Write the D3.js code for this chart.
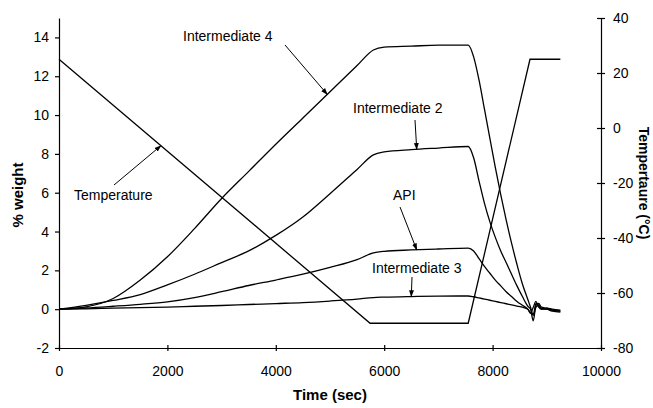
<!DOCTYPE html>
<html>
<head>
<meta charset="utf-8">
<script src="https://cdn.jsdelivr.net/npm/d3@7"></script>
<style>
  html, body { margin: 0; padding: 0; background: #fff; }
  svg { display: block; }
  text { font-family: "Liberation Sans", Arial, Helvetica, sans-serif; fill: #000; }
</style>
</head>
<body>
<svg id="chart" width="653" height="408"></svg>
<script>
// ---------------- data ----------------
const times = [0,500,1000,1500,2000,2500,3000,3500,4000,4500,5000,5500,5800,6000,6500,7000,7550,
               7650,7750,7850,7950,8050,8150,8250,8350,8450,8550,8650,8700,8750,8800,8850,8900,9000,9100,9250];
const intermediate4 = [0,0.12,0.55,1.5,2.7,4.15,5.7,7.1,8.5,9.85,11.2,12.55,13.35,13.5,13.55,13.6,13.6,
               13.0,11.8,10.3,8.8,7.3,5.9,4.6,3.4,2.3,1.3,0.5,0.1,-0.3,0.3,0.2,0.05,0.0,-0.1,-0.15];
const intermediate2 = [0,0.2,0.45,0.75,1.25,1.8,2.4,3.0,3.8,4.75,5.95,7.2,7.95,8.1,8.22,8.3,8.38,
               7.8,6.6,5.45,4.5,3.7,3.0,2.4,1.8,1.2,0.65,0.15,0.0,-0.6,0.2,0.3,0.1,0.05,-0.05,-0.1];
const api = [0,0.06,0.15,0.25,0.38,0.6,0.9,1.22,1.5,1.8,2.15,2.55,2.9,2.98,3.05,3.1,3.15,
               3.0,2.6,2.2,1.85,1.5,1.2,0.9,0.65,0.4,0.2,0.0,-0.2,0.1,0.4,0.1,0.0,0.05,0.0,-0.05];
const intermediate3 = [0,0.02,0.05,0.08,0.11,0.15,0.19,0.24,0.29,0.34,0.42,0.52,0.6,0.62,0.65,0.67,0.68,
               0.64,0.58,0.52,0.46,0.4,0.34,0.28,0.22,0.16,0.1,0.0,-0.2,-0.3,0.1,0.2,0.0,0.0,-0.05,-0.1];
const tempTimes = [0, 5740, 7550, 8690, 9250];
const temperature = [25, -71, -71, 25, 25];

const xTicks = [0,2000,4000,6000,8000,10000];
const yLeftTicks = [-2,0,2,4,6,8,10,12,14];
const yRightTicks = [-80,-60,-40,-20,0,20,40];

// annotations: label, anchor series & time where arrow points
const labels = [
  {text: "Intermediate 4", series: intermediate4, t: 4950, tx: 183, ty: 36, ax: 285, ay: 45},
  {text: "Intermediate 2", series: intermediate2, t: 6600, tx: 353, ty: 108, ax: 415, ay: 120},
  {text: "API",            series: api,           t: 6600, tx: 393, ty: 195, ax: 400, ay: 207},
  {text: "Intermediate 3", series: intermediate3, t: 6500, tx: 372, ty: 268, ax: 412, ay: 277},
  {text: "Temperature",    series: null,          t: 1880, tx: 74,  ty: 195, ax: 114, ay: 185}
];

// ---------------- layout ----------------
const svg = d3.select("#chart");
const L = 59, R = 601, T = 18, B = 348;

const x = d3.scaleLinear().domain([0, 10000]).range([L, R]);
const yL = d3.scaleLinear().domain([-2, 15]).range([B, T]);
const yR = d3.scaleLinear().domain([-80, 40]).range([B, T]);

// defs: arrow head
svg.append("defs").append("marker")
  .attr("id", "arrow").attr("viewBox", "0 0 10 10")
  .attr("refX", 9).attr("refY", 5)
  .attr("markerWidth", 7).attr("markerHeight", 7)
  .attr("orient", "auto-start-reverse")
  .append("path").attr("d", "M0,1.5 L10,5 L0,8.5 Z").attr("fill", "#000");

// ---------------- series ----------------
const line = d3.line().x(d => x(d[0])).y(d => yL(d[1])).curve(d3.curveMonotoneX);
const series = [intermediate4, intermediate2, api, intermediate3];
series.forEach(vals => {
  svg.append("path")
    .datum(times.map((t, i) => [t, vals[i]]))
    .attr("d", line)
    .attr("fill", "none").attr("stroke", "#000").attr("stroke-width", 1.3);
});
const tline = d3.line().x(d => x(d[0])).y(d => yR(d[1]));
svg.append("path")
  .datum(tempTimes.map((t, i) => [t, temperature[i]]))
  .attr("d", tline)
  .attr("fill", "none").attr("stroke", "#000").attr("stroke-width", 1.3);

// ---------------- axes ----------------
const fmt = d => String(d);
const axX = svg.append("g").attr("transform", `translate(0,${B})`)
  .call(d3.axisBottom(x).tickValues(xTicks).tickSizeInner(4).tickSizeOuter(0).tickPadding(14).tickFormat(fmt));
axX.selectAll(".tick line").attr("y1", -3).attr("y2", 3);
const axL = svg.append("g").attr("transform", `translate(${L},0)`)
  .call(d3.axisLeft(yL).tickValues(yLeftTicks).tickSizeInner(4).tickSizeOuter(0).tickPadding(6).tickFormat(fmt));
const axR = svg.append("g").attr("transform", `translate(${R},0)`)
  .call(d3.axisRight(yR).tickValues(yRightTicks).tickSizeInner(4).tickSizeOuter(0).tickPadding(8).tickFormat(fmt));
axR.selectAll(".tick line").attr("x1", -4).attr("x2", 4);
[axX, axL, axR].forEach(a => {
  a.select(".domain").attr("stroke", "#000").attr("stroke-width", 1.2);
  a.selectAll(".tick line").attr("stroke", "#000").attr("stroke-width", 1.2);
  a.selectAll(".tick text").style("font-size", "14px").attr("fill", "#000");
});

// axis titles
svg.append("text").attr("x", 330).attr("y", 400).attr("text-anchor", "middle")
  .style("font-size", "15px").style("font-weight", "bold").text("Time (sec)");
svg.append("text").attr("transform", `translate(23,${(T + B) / 2 + 12}) rotate(-90)`).attr("text-anchor", "middle")
  .style("font-size", "15px").style("font-weight", "bold").text("% weight");
svg.append("text").attr("transform", `translate(639,${(T + B) / 2}) rotate(90)`).attr("text-anchor", "middle")
  .style("font-size", "14px").style("font-weight", "bold").text("Tempertaure (°C)");

// ---------------- annotations ----------------
function valueAt(vals, tt, ts) {
  const i = d3.bisectLeft(ts, tt);
  if (i <= 0) return vals[0];
  const t0 = ts[i - 1], t1 = ts[i];
  return vals[i - 1] + (vals[i] - vals[i - 1]) * (tt - t0) / (t1 - t0);
}
labels.forEach(lb => {
  svg.append("text").attr("x", lb.tx).attr("y", lb.ty).attr("dy", "0.35em")
    .style("font-size", "14px").text(lb.text);
  let px = x(lb.t), py;
  if (lb.series) py = yL(valueAt(lb.series, lb.t, times));
  else py = yR(valueAt(temperature, lb.t, tempTimes));
  svg.append("line").attr("x1", lb.ax).attr("y1", lb.ay).attr("x2", px).attr("y2", py)
    .attr("stroke", "#000").attr("stroke-width", 1).attr("marker-end", "url(#arrow)");
});
</script>
</body>
</html>
